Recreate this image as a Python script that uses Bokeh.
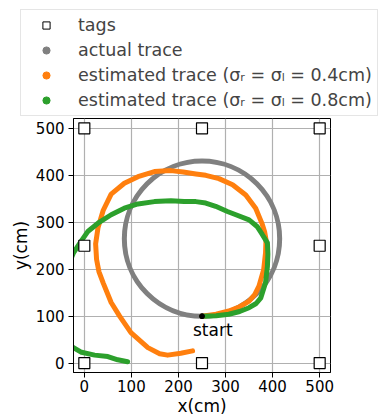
from bokeh.plotting import figure
from bokeh.models import (Range1d, Legend, LegendItem, FixedTicker, Label)
from bokeh.embed import file_html
from bokeh.resources import INLINE

# Anchor tags placed around the 5 m x 5 m room
tag_x = [0, 250, 500, 0, 500, 0, 250, 500]
tag_y = [0, 0, 0, 250, 250, 500, 500, 500]

# Ground-truth circular path
actual_cx = 250
actual_cy = 265
actual_r = 165

# Starting point of every run
start_x = 250
start_y = 100

# Estimated path, sigma_R = sigma_L = 0.4 cm
est04_x = [250, 280, 307, 330, 350, 362, 371, 381, 385, 386, 383, 378, 364,
           343, 315, 286, 258, 237, 210, 184, 149, 114, 85, 57, 40, 29, 24,
           26, 31, 40, 57, 75, 99, 135, 160, 177, 205, 230]
est04_y = [100, 104, 111, 120, 132, 146, 164, 199, 235, 263, 280, 296, 330,
           358, 380, 393, 400, 403, 407, 410, 408, 397, 383, 360, 325, 288,
           254, 221, 195, 171, 129, 100, 65, 33, 20, 17, 21, 26]

# Estimated path, sigma_R = sigma_L = 0.8 cm (drifts out past the left wall)
est08_x = [250, 280, 307, 330, 350, 365, 375, 385, 389, 390, 389, 378, 367,
           350, 322, 304, 279, 258, 237, 212, 184, 149, 114, 85, 57, 29, 8,
           -6, -23, -50, -60, -50, -23, -6, 22, 50, 71, 92]
est08_y = [100, 101, 104, 110, 118, 127, 139, 171, 206, 232, 256, 274, 291,
           305, 316, 323, 334, 341, 344, 344, 346, 344, 339, 330, 316, 298,
           281, 261, 235, 170, 100, 50, 33, 23, 17, 14, 7, 3]

x_ticks = [0, 100, 200, 300, 400, 500]
y_ticks = [0, 100, 200, 300, 400, 500]

labels = ["tags", "actual trace",
          "estimated trace (σᵣ = σₗ = 0.4cm)",
          "estimated trace (σᵣ = σₗ = 0.8cm)"]

FONT = "DejaVu Sans"
GRAY = "#808080"
ORANGE = "#ff7f0e"
GREEN = "#2ca02c"

# ---- legend strip above the map ----
leg = figure(width=380, height=116, output_backend="svg", toolbar_location=None,
             x_axis_location=None, y_axis_location=None,
             x_range=Range1d(0, 1), y_range=Range1d(0, 1), min_border=0)
leg.outline_line_color = None
leg.grid.visible = False
leg.background_fill_color = "white"
leg.border_fill_color = "white"

def legend_glyph(**kw):
    # a single off-range point: only the legend swatch is seen
    return leg.scatter(x=[-1], y=[-1], **kw)

r_tags = legend_glyph(marker="square", fill_color="white", line_color="black",
                      line_width=1)
r_act = legend_glyph(marker="circle", fill_color=GRAY, line_color=GRAY)
r_04 = legend_glyph(marker="circle", fill_color=ORANGE, line_color=ORANGE)
r_08 = legend_glyph(marker="circle", fill_color=GREEN, line_color=GREEN)

legend = Legend(items=[
    LegendItem(label=labels[0], renderers=[r_tags]),
    LegendItem(label=labels[1], renderers=[r_act]),
    LegendItem(label=labels[2], renderers=[r_04]),
    LegendItem(label=labels[3], renderers=[r_08]),
], location=(20, 0))
legend.label_text_font = FONT
legend.label_text_font_size = "17.5px"
legend.label_height = 20
legend.glyph_height = 18
legend.glyph_width = 40
legend.label_standoff = 12
legend.padding = 5
legend.spacing = 5
legend.margin = 0
legend.border_line_color = "#cccccc"
legend.border_line_width = 1
legend.background_fill_alpha = 0.8
leg.add_layout(legend)

# ---- map of the room ----
p = figure(width=380, height=302, output_backend="svg", toolbar_location=None,
           x_range=Range1d(-23, 523), y_range=Range1d(-20, 521),
           min_border_left=73, min_border_right=50,
           min_border_top=2, min_border_bottom=45)

p.outline_line_color = "black"
p.outline_line_width = 1
p.background_fill_color = "white"
p.border_fill_color = "white"

for ax, ticks, lab in ((p.xaxis, x_ticks, "x(cm)"), (p.yaxis, y_ticks, "y(cm)")):
    ax.ticker = FixedTicker(ticks=ticks)
    ax.axis_label = lab
    ax.axis_line_color = "black"
    ax.major_tick_line_color = "black"
    ax.major_tick_out = 5
    ax.major_tick_in = 0
    ax.minor_tick_line_color = None
    ax.major_label_text_font = FONT
    ax.major_label_text_font_size = "15px"
    ax.major_label_text_color = "black"
    ax.axis_label_text_font = FONT
    ax.axis_label_text_font_size = "17px"
    ax.axis_label_text_font_style = "normal"
    ax.axis_label_text_color = "black"
p.xaxis.major_label_standoff = 2
p.xaxis.axis_label_standoff = 1
p.yaxis.major_label_standoff = 4
p.yaxis.axis_label_standoff = 2

p.grid.grid_line_color = "#b0b0b0"
p.grid.grid_line_width = 1.2

# Paths
p.circle(x=[actual_cx], y=[actual_cy], radius=actual_r, fill_color=None,
         line_color=GRAY, line_width=5)
p.line(est04_x, est04_y, line_color=ORANGE, line_width=5, line_join="round",
       line_cap="round")
p.line(est08_x, est08_y, line_color=GREEN, line_width=5, line_join="round",
       line_cap="round")

# Tags and the start marker
p.scatter(tag_x, tag_y, marker="square", size=11, fill_color="white",
          line_color="black", line_width=1.2)
p.scatter([start_x], [start_y], size=5, color="black")
p.add_layout(Label(x=start_x, y=start_y, x_offset=-9, y_offset=-14,
                   text="start", text_baseline="alphabetic",
                   text_font=FONT, text_font_size="17px", text_color="black"))

# two independent roots stacked on the page
open("out.html", "w").write(file_html([leg, p], INLINE))
